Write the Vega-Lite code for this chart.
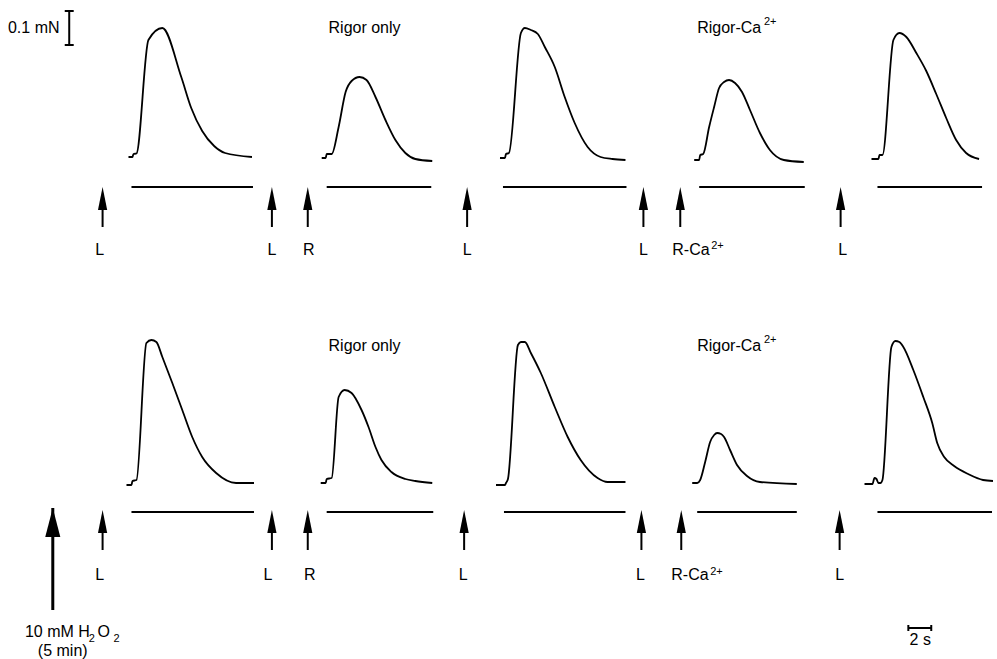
{
  "$schema": "https://vega.github.io/schema/vega-lite/v6.json",
  "width": 997,
  "height": 659,
  "padding": 0,
  "autosize": {"type": "fit", "contains": "padding"},
  "background": "white",
  "config": {"view": {"stroke": null}, "text": {"font": "Liberation Sans", "color": "black"}},
  "datasets": {
    "traces": [
      {"id": "t1", "o": 1, "x": 129, "y": 157}, {"id": "t1", "o": 2, "x": 133, "y": 157}, {"id": "t1", "o": 3, "x": 134, "y": 154}, {"id": "t1", "o": 4, "x": 137, "y": 153.5}, {"id": "t1", "o": 5, "x": 149, "y": 40}, {"id": "t1", "o": 6, "x": 163, "y": 28}, {"id": "t1", "o": 7, "x": 182, "y": 77}, {"id": "t1", "o": 8, "x": 192, "y": 108}, {"id": "t1", "o": 9, "x": 203, "y": 131}, {"id": "t1", "o": 10, "x": 215, "y": 146}, {"id": "t1", "o": 11, "x": 226, "y": 153}, {"id": "t1", "o": 12, "x": 253, "y": 157},
      {"id": "t2", "o": 1, "x": 323, "y": 158}, {"id": "t2", "o": 2, "x": 327, "y": 158}, {"id": "t2", "o": 3, "x": 328, "y": 154}, {"id": "t2", "o": 4, "x": 333, "y": 154}, {"id": "t2", "o": 5, "x": 340, "y": 127}, {"id": "t2", "o": 6, "x": 347, "y": 92}, {"id": "t2", "o": 7, "x": 353, "y": 81}, {"id": "t2", "o": 8, "x": 361, "y": 77}, {"id": "t2", "o": 9, "x": 368, "y": 80}, {"id": "t2", "o": 10, "x": 377, "y": 97}, {"id": "t2", "o": 11, "x": 387, "y": 120}, {"id": "t2", "o": 12, "x": 397, "y": 140}, {"id": "t2", "o": 13, "x": 407, "y": 153}, {"id": "t2", "o": 14, "x": 417, "y": 159}, {"id": "t2", "o": 15, "x": 434, "y": 161},
      {"id": "t3", "o": 1, "x": 502, "y": 158}, {"id": "t3", "o": 2, "x": 507, "y": 158}, {"id": "t3", "o": 3, "x": 508, "y": 154}, {"id": "t3", "o": 4, "x": 511, "y": 153}, {"id": "t3", "o": 5, "x": 523, "y": 33}, {"id": "t3", "o": 6, "x": 527, "y": 28}, {"id": "t3", "o": 7, "x": 533, "y": 30}, {"id": "t3", "o": 8, "x": 540, "y": 34}, {"id": "t3", "o": 9, "x": 547, "y": 47}, {"id": "t3", "o": 10, "x": 557, "y": 67}, {"id": "t3", "o": 11, "x": 567, "y": 97}, {"id": "t3", "o": 12, "x": 577, "y": 123}, {"id": "t3", "o": 13, "x": 590, "y": 147}, {"id": "t3", "o": 14, "x": 603, "y": 157}, {"id": "t3", "o": 15, "x": 615, "y": 159}, {"id": "t3", "o": 16, "x": 628, "y": 160},
      {"id": "t4", "o": 1, "x": 697, "y": 160}, {"id": "t4", "o": 2, "x": 702, "y": 160}, {"id": "t4", "o": 3, "x": 703, "y": 155}, {"id": "t4", "o": 4, "x": 706, "y": 154}, {"id": "t4", "o": 5, "x": 712, "y": 127}, {"id": "t4", "o": 6, "x": 717, "y": 107}, {"id": "t4", "o": 7, "x": 722, "y": 88}, {"id": "t4", "o": 8, "x": 727, "y": 82}, {"id": "t4", "o": 9, "x": 732, "y": 80}, {"id": "t4", "o": 10, "x": 738, "y": 83}, {"id": "t4", "o": 11, "x": 745, "y": 92}, {"id": "t4", "o": 12, "x": 753, "y": 110}, {"id": "t4", "o": 13, "x": 763, "y": 133}, {"id": "t4", "o": 14, "x": 773, "y": 150}, {"id": "t4", "o": 15, "x": 787, "y": 160}, {"id": "t4", "o": 16, "x": 807, "y": 162},
      {"id": "t5", "o": 1, "x": 875, "y": 159}, {"id": "t5", "o": 2, "x": 882, "y": 159}, {"id": "t5", "o": 3, "x": 883, "y": 155}, {"id": "t5", "o": 4, "x": 886, "y": 155}, {"id": "t5", "o": 5, "x": 897, "y": 40}, {"id": "t5", "o": 6, "x": 903, "y": 33}, {"id": "t5", "o": 7, "x": 910, "y": 37}, {"id": "t5", "o": 8, "x": 920, "y": 53}, {"id": "t5", "o": 9, "x": 930, "y": 71}, {"id": "t5", "o": 10, "x": 940, "y": 94}, {"id": "t5", "o": 11, "x": 950, "y": 118}, {"id": "t5", "o": 12, "x": 960, "y": 140}, {"id": "t5", "o": 13, "x": 970, "y": 153}, {"id": "t5", "o": 14, "x": 983, "y": 159},
      {"id": "b1", "o": 1, "x": 127, "y": 485}, {"id": "b1", "o": 2, "x": 132, "y": 485}, {"id": "b1", "o": 3, "x": 133, "y": 481}, {"id": "b1", "o": 4, "x": 137, "y": 480}, {"id": "b1", "o": 5, "x": 147, "y": 343}, {"id": "b1", "o": 6, "x": 152, "y": 340}, {"id": "b1", "o": 7, "x": 157, "y": 342}, {"id": "b1", "o": 8, "x": 163, "y": 357}, {"id": "b1", "o": 9, "x": 173, "y": 383}, {"id": "b1", "o": 10, "x": 183, "y": 410}, {"id": "b1", "o": 11, "x": 193, "y": 437}, {"id": "b1", "o": 12, "x": 203, "y": 457}, {"id": "b1", "o": 13, "x": 217, "y": 473}, {"id": "b1", "o": 14, "x": 237, "y": 483}, {"id": "b1", "o": 15, "x": 255, "y": 483},
      {"id": "b2", "o": 1, "x": 322, "y": 483}, {"id": "b2", "o": 2, "x": 327, "y": 483}, {"id": "b2", "o": 3, "x": 328, "y": 479}, {"id": "b2", "o": 4, "x": 333, "y": 478}, {"id": "b2", "o": 5, "x": 340, "y": 397}, {"id": "b2", "o": 6, "x": 346, "y": 390}, {"id": "b2", "o": 7, "x": 353, "y": 393}, {"id": "b2", "o": 8, "x": 363, "y": 410}, {"id": "b2", "o": 9, "x": 370, "y": 427}, {"id": "b2", "o": 10, "x": 377, "y": 447}, {"id": "b2", "o": 11, "x": 383, "y": 460}, {"id": "b2", "o": 12, "x": 393, "y": 472}, {"id": "b2", "o": 13, "x": 407, "y": 479}, {"id": "b2", "o": 14, "x": 417, "y": 481}, {"id": "b2", "o": 15, "x": 434, "y": 483},
      {"id": "b3", "o": 1, "x": 498, "y": 485}, {"id": "b3", "o": 2, "x": 507, "y": 485}, {"id": "b3", "o": 3, "x": 508, "y": 483}, {"id": "b3", "o": 4, "x": 510, "y": 479}, {"id": "b3", "o": 5, "x": 520, "y": 345}, {"id": "b3", "o": 6, "x": 523, "y": 342}, {"id": "b3", "o": 7, "x": 527, "y": 342}, {"id": "b3", "o": 8, "x": 533, "y": 353}, {"id": "b3", "o": 9, "x": 543, "y": 373}, {"id": "b3", "o": 10, "x": 557, "y": 407}, {"id": "b3", "o": 11, "x": 570, "y": 437}, {"id": "b3", "o": 12, "x": 583, "y": 460}, {"id": "b3", "o": 13, "x": 600, "y": 478}, {"id": "b3", "o": 14, "x": 610, "y": 482}, {"id": "b3", "o": 15, "x": 628, "y": 482},
      {"id": "b4", "o": 1, "x": 695, "y": 483}, {"id": "b4", "o": 2, "x": 700, "y": 483}, {"id": "b4", "o": 3, "x": 703, "y": 480}, {"id": "b4", "o": 4, "x": 708, "y": 462}, {"id": "b4", "o": 5, "x": 713, "y": 442}, {"id": "b4", "o": 6, "x": 717, "y": 435}, {"id": "b4", "o": 7, "x": 720, "y": 433}, {"id": "b4", "o": 8, "x": 724, "y": 434}, {"id": "b4", "o": 9, "x": 727, "y": 437}, {"id": "b4", "o": 10, "x": 733, "y": 450}, {"id": "b4", "o": 11, "x": 740, "y": 465}, {"id": "b4", "o": 12, "x": 750, "y": 476}, {"id": "b4", "o": 13, "x": 763, "y": 482}, {"id": "b4", "o": 14, "x": 800, "y": 484},
      {"id": "b5", "o": 1, "x": 868, "y": 484}, {"id": "b5", "o": 2, "x": 876, "y": 484}, {"id": "b5", "o": 3, "x": 878, "y": 478}, {"id": "b5", "o": 4, "x": 880, "y": 479}, {"id": "b5", "o": 5, "x": 882, "y": 483}, {"id": "b5", "o": 6, "x": 884, "y": 483}, {"id": "b5", "o": 7, "x": 886, "y": 480}, {"id": "b5", "o": 8, "x": 895, "y": 347}, {"id": "b5", "o": 9, "x": 899, "y": 341}, {"id": "b5", "o": 10, "x": 903, "y": 342}, {"id": "b5", "o": 11, "x": 907, "y": 347}, {"id": "b5", "o": 12, "x": 917, "y": 370}, {"id": "b5", "o": 13, "x": 927, "y": 397}, {"id": "b5", "o": 14, "x": 936, "y": 423}, {"id": "b5", "o": 15, "x": 941, "y": 443}, {"id": "b5", "o": 16, "x": 948, "y": 457}, {"id": "b5", "o": 17, "x": 958, "y": 466}, {"id": "b5", "o": 18, "x": 972, "y": 474}, {"id": "b5", "o": 19, "x": 987, "y": 480}, {"id": "b5", "o": 20, "x": 997, "y": 481}
    ],
    "segments": [
      {"x": 132, "x2": 254, "y": 187, "y2": 187}, {"x": 328, "x2": 433, "y": 187, "y2": 187}, {"x": 505, "x2": 629, "y": 187, "y2": 187}, {"x": 702, "x2": 808, "y": 187, "y2": 187}, {"x": 881, "x2": 986, "y": 187, "y2": 187},
      {"x": 132, "x2": 255, "y": 512, "y2": 512}, {"x": 328, "x2": 435, "y": 512, "y2": 512}, {"x": 506, "x2": 628, "y": 512, "y2": 512}, {"x": 700, "x2": 800, "y": 512, "y2": 512}, {"x": 881, "x2": 996, "y": 512, "y2": 512},
      {"x": 103, "x2": 103, "y": 195, "y2": 227}, {"x": 273, "x2": 273, "y": 195, "y2": 227}, {"x": 309, "x2": 309, "y": 195, "y2": 227}, {"x": 469, "x2": 469, "y": 195, "y2": 227}, {"x": 646, "x2": 646, "y": 195, "y2": 227}, {"x": 683, "x2": 683, "y": 195, "y2": 227}, {"x": 844, "x2": 844, "y": 195, "y2": 227},
      {"x": 103, "x2": 103, "y": 518, "y2": 550}, {"x": 273, "x2": 273, "y": 518, "y2": 550}, {"x": 309, "x2": 309, "y": 518, "y2": 550}, {"x": 466, "x2": 466, "y": 518, "y2": 550}, {"x": 644, "x2": 644, "y": 518, "y2": 550}, {"x": 684, "x2": 684, "y": 518, "y2": 550}, {"x": 843, "x2": 843, "y": 518, "y2": 550},
      {"x": 69.5, "x2": 69.5, "y": 11, "y2": 45}, {"x": 65, "x2": 74, "y": 11, "y2": 11}, {"x": 65, "x2": 74, "y": 45, "y2": 45},
      {"x": 912, "x2": 935, "y": 628, "y2": 628}, {"x": 912, "x2": 912, "y": 625, "y2": 631}, {"x": 935, "x2": 935, "y": 625, "y2": 631}
    ],
    "heads": [
      {"x": 103, "y": 187}, {"x": 273, "y": 187}, {"x": 309, "y": 187}, {"x": 469, "y": 187}, {"x": 646, "y": 187}, {"x": 683, "y": 187}, {"x": 844, "y": 187},
      {"x": 103, "y": 510}, {"x": 273, "y": 510}, {"x": 309, "y": 510}, {"x": 466, "y": 510}, {"x": 644, "y": 510}, {"x": 684, "y": 510}, {"x": 843, "y": 510}
    ],
    "big": [{"x": 53, "y": 508, "y2": 610}],
    "centerText": [
      {"x": 366, "y": 33, "t": "Rigor only"}, {"x": 366, "y": 351, "t": "Rigor only"},
      {"x": 100, "y": 255, "t": "L"}, {"x": 273, "y": 255, "t": "L"}, {"x": 310, "y": 255, "t": "R"}, {"x": 469, "y": 255, "t": "L"}, {"x": 646, "y": 255, "t": "L"}, {"x": 846, "y": 255, "t": "L"},
      {"x": 100, "y": 580, "t": "L"}, {"x": 269, "y": 580, "t": "L"}, {"x": 311, "y": 580, "t": "R"}, {"x": 465, "y": 580, "t": "L"}, {"x": 643, "y": 580, "t": "L"}, {"x": 843, "y": 580, "t": "L"},
      {"x": 63, "y": 656, "t": "(5 min)"}, {"x": 924, "y": 645, "t": "2 s"}
    ],
    "leftText": [
      {"x": 700, "y": 33, "t": "Rigor-Ca"}, {"x": 700, "y": 351, "t": "Rigor-Ca"},
      {"x": 675, "y": 255, "t": "R-Ca"}, {"x": 674, "y": 580, "t": "R-Ca"},
      {"x": 8, "y": 33, "t": "0.1 mN"},
      {"x": 25, "y": 637, "t": "10 mM H"}, {"x": 98, "y": 637, "t": "O"}
    ],
    "smallText": [
      {"x": 767, "y": 25, "t": "2+"}, {"x": 767, "y": 343, "t": "2+"},
      {"x": 714, "y": 249, "t": "2+"}, {"x": 713, "y": 575, "t": "2+"},
      {"x": 89, "y": 642, "t": "2"}, {"x": 114, "y": 642, "t": "2"}
    ]
  },
  "encoding": {
    "x": {"field": "x", "type": "quantitative", "scale": {"domain": [0, 997], "nice": false, "zero": false}, "axis": null},
    "y": {"field": "y", "type": "quantitative", "scale": {"domain": [0, 659], "nice": false, "zero": false, "reverse": true}, "axis": null}
  },
  "layer": [
    {
      "data": {"name": "traces"},
      "mark": {"type": "line", "color": "black", "strokeWidth": 1.8, "interpolate": "monotone"},
      "encoding": {"detail": {"field": "id"}, "order": {"field": "o", "type": "quantitative"}}
    },
    {
      "data": {"name": "segments"},
      "mark": {"type": "rule", "color": "black", "strokeWidth": 2},
      "encoding": {"x2": {"field": "x2"}, "y2": {"field": "y2"}}
    },
    {
      "data": {"name": "heads"},
      "mark": {"type": "point", "filled": true, "color": "black", "opacity": 1, "strokeWidth": 0, "shape": "M0,-1L0.4,1L-0.4,1Z", "size": 529, "yOffset": 11.5}
    },
    {
      "data": {"name": "big"},
      "mark": {"type": "rule", "color": "black", "strokeWidth": 3},
      "encoding": {"y2": {"field": "y2"}}
    },
    {
      "data": {"name": "big"},
      "mark": {"type": "point", "filled": true, "color": "black", "opacity": 1, "strokeWidth": 0, "shape": "M0,-1L0.52,1L-0.52,1Z", "size": 841, "yOffset": 14.5}
    },
    {
      "data": {"name": "centerText"},
      "mark": {"type": "text", "align": "center", "baseline": "alphabetic", "fontSize": 16},
      "encoding": {"text": {"field": "t"}}
    },
    {
      "data": {"name": "leftText"},
      "mark": {"type": "text", "align": "left", "baseline": "alphabetic", "fontSize": 16},
      "encoding": {"text": {"field": "t"}}
    },
    {
      "data": {"name": "smallText"},
      "mark": {"type": "text", "align": "left", "baseline": "alphabetic", "fontSize": 11},
      "encoding": {"text": {"field": "t"}}
    }
  ]
}
